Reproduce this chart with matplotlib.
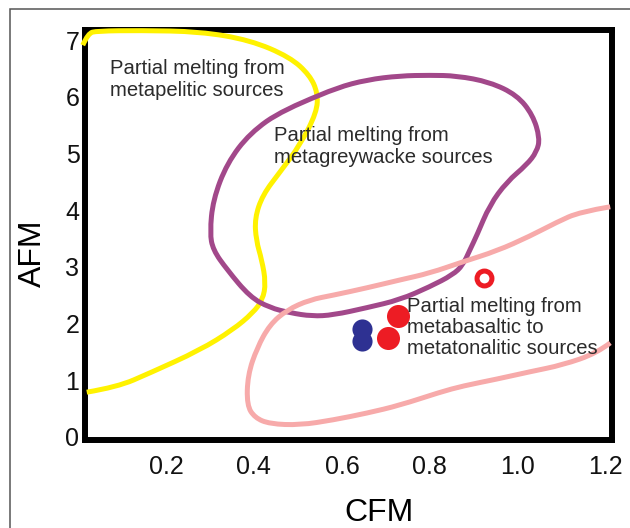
import numpy as np
import matplotlib
matplotlib.use("Agg")
import matplotlib.pyplot as plt
from matplotlib.patches import Rectangle, PathPatch
from matplotlib.path import Path

plt.rcParams['font.family'] = ['Liberation Sans', 'DejaVu Sans']

# field boundaries (CFM, AFM)
metapelitic_cfm = [0.011, 0.023, 0.043, 0.141, 0.277, 0.391, 0.482, 0.527, 0.545, 0.543,
                   0.505, 0.459, 0.420, 0.402, 0.405, 0.418, 0.427, 0.420, 0.398, 0.352,
                   0.277, 0.164, 0.089, 0.020]
metapelitic_afm = [6.91, 7.12, 7.16, 7.17, 7.15, 7.00, 6.70, 6.38, 6.07, 5.73,
                   5.15, 4.67, 4.27, 3.86, 3.47, 3.12, 2.72, 2.42, 2.19, 1.89,
                   1.53, 1.13, 0.88, 0.79]

metagreywacke_cfm = [0.550, 0.589, 0.657, 0.732, 0.800, 0.861, 0.936, 0.998, 1.034, 1.050,
                     1.043, 1.020, 0.975, 0.936, 0.907, 0.891, 0.875, 0.852, 0.800, 0.732,
                     0.657, 0.580, 0.532, 0.482, 0.436, 0.391, 0.339, 0.307, 0.300, 0.307,
                     0.339, 0.391, 0.466, 0.550]
metagreywacke_afm = [6.03, 6.16, 6.30, 6.37, 6.38, 6.37, 6.26, 6.03, 5.68, 5.27,
                     5.03, 4.80, 4.50, 4.09, 3.56, 3.30, 3.03, 2.86, 2.65, 2.42,
                     2.28, 2.15, 2.13, 2.19, 2.28, 2.47, 2.95, 3.30, 3.60, 4.18,
                     4.83, 5.36, 5.77, 6.03]

metabasaltic_cfm = [1.210, 1.141, 1.089, 1.027, 0.952, 0.875, 0.800, 0.732, 0.657, 0.580,
                    0.527, 0.475, 0.436, 0.407, 0.386, 0.384, 0.402, 0.436, 0.505, 0.580,
                    0.657, 0.732, 0.823, 0.875, 0.952, 1.027, 1.102, 1.180, 1.210]
metabasaltic_afm = [4.06, 3.97, 3.79, 3.54, 3.28, 3.09, 2.89, 2.77, 2.63, 2.50,
                    2.42, 2.24, 1.98, 1.57, 1.09, 0.56, 0.34, 0.23, 0.21, 0.30,
                    0.42, 0.56, 0.79, 0.90, 1.02, 1.15, 1.27, 1.48, 1.66]

# samples
blue_cfm = [0.645, 0.645]
blue_afm = [1.90, 1.69]
red_cfm = [0.727, 0.705]
red_afm = [2.13, 1.75]
open_cfm = [0.923]
open_afm = [2.80]

x_ticks = [0.2, 0.4, 0.6, 0.8, 1.0, 1.2]
y_ticks = [0, 1, 2, 3, 4, 5, 6, 7]


def smooth_path(xs, ys):
    """quadratic curve through the midpoints, so the hand-drawn lines look round"""
    pts = np.column_stack([xs, ys])
    verts = [pts[0]]
    codes = [Path.MOVETO]
    for i in range(1, len(pts) - 1):
        mid = (pts[i] + pts[i + 1]) / 2
        if i == len(pts) - 2:
            mid = pts[i + 1]
        verts += [pts[i], mid]
        codes += [Path.CURVE3, Path.CURVE3]
    return Path(verts, codes)


def draw_field(ax, xs, ys, color, clip=True):
    patch = PathPatch(smooth_path(xs, ys), facecolor='none', edgecolor=color, lw=3.6,
                      zorder=3, joinstyle='round', capstyle='butt')
    ax.add_patch(patch)
    patch.set_clip_on(clip)


fig = plt.figure(figsize=(6.3, 5.28), dpi=100)
ax = fig.add_axes([0.1349, 0.1667, 0.8365, 0.7765])

# thin frame around the whole figure
fig.patches.append(Rectangle((10 / 630, -0.1), 1.2, 1.1 - 9 / 528, transform=fig.transFigure,
                             fill=False, edgecolor='#555555', linewidth=1.1))

draw_field(ax, metapelitic_cfm, metapelitic_afm, '#fff200', clip=False)
draw_field(ax, metagreywacke_cfm, metagreywacke_afm, '#a2488a')
draw_field(ax, metabasaltic_cfm, metabasaltic_afm, '#f7aaaa', clip=False)

ax.scatter(blue_cfm, blue_afm, s=210, color='#2e3192', zorder=4, linewidths=0)
ax.scatter(red_cfm, red_afm, s=275, color='#ed1c24', zorder=4, linewidths=0)
ax.scatter(open_cfm, open_afm, s=115, facecolor='white', edgecolor='#ed1c24',
           linewidths=3.6, zorder=4)

txt = '#2b2b2b'
ax.text(0.073, 6.30, 'Partial melting from\nmetapelitic sources', fontsize=14.6,
        color=txt, va='center', ha='left', linespacing=1.17)
ax.text(0.445, 5.12, 'Partial melting from\nmetagreywacke sources', fontsize=14.6,
        color=txt, va='center', ha='left', linespacing=1.17)
ax.text(0.748, 1.93, 'Partial melting from\nmetabasaltic to\nmetatonalitic sources', fontsize=14.6,
        color=txt, va='center', ha='left', linespacing=1.15, zorder=5)

ax.set_xlim(0.016, 1.214)
ax.set_ylim(-0.053, 7.178)
ax.set_xticks(x_ticks)
ax.set_xticklabels([f'{v:.1f}' for v in x_ticks])
ax.set_yticks(y_ticks)
ax.tick_params(axis='both', length=0, labelsize=18, colors='#111111')
ax.tick_params(axis='x', pad=11)
ax.tick_params(axis='y', pad=4)

for s in ax.spines.values():
    s.set_linewidth(4.3)
    s.set_color('black')

ax.set_xlabel('CFM', fontsize=23, va='center')
ax.xaxis.set_label_coords(0.557, -0.178)
ax.set_ylabel('AFM', fontsize=23, va='center')
ax.yaxis.set_label_coords(-0.099, 0.456)

fig.savefig('out.png', dpi=100)
